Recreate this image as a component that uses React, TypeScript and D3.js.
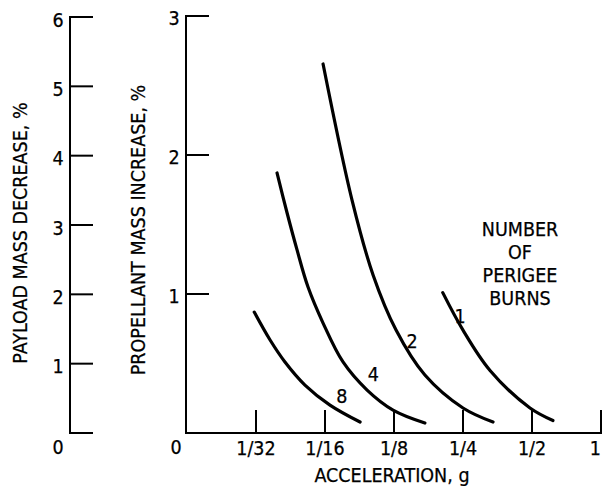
import React from "react";
import * as d3 from "d3";

// ---- data ----
const burnCounts = ["8", "4", "2", "1"];
const accel8 = [0.0307, 0.036, 0.0418, 0.0511, 0.0657, 0.0889];
const prop8 = [0.87, 0.669, 0.511, 0.345, 0.201, 0.079];
const accel4 = [0.0386, 0.0426, 0.0472, 0.0527, 0.0613, 0.0749, 0.0954, 0.1238, 0.1705];
const prop4 = [1.871, 1.59, 1.317, 1.05, 0.791, 0.511, 0.309, 0.165, 0.072];
const accel2 = [0.0613, 0.082, 0.1013, 0.1276, 0.1705, 0.25, 0.338];
const prop2 = [2.655, 1.676, 1.137, 0.741, 0.417, 0.18, 0.079];
const accel1 = [0.204, 0.25, 0.328, 0.49, 0.617];
const prop1 = [1.01, 0.74, 0.45, 0.18, 0.09];
const labelAccel = [0.0741, 0.1015, 0.15, 0.243];
const labelProp = [0.26, 0.42, 0.655, 0.835];

const xTickValues = [1 / 32, 1 / 16, 1 / 8, 1 / 4, 1 / 2, 1];
const xTickLabels = ["1/32", "1/16", "1/8", "1/4", "1/2", "1"];
const payloadTicks = [1, 2, 3, 4, 5, 6];
const propTicks = [1, 2, 3];
const legendLines = ["NUMBER", "OF", "PERIGEE", "BURNS"];

const W = 602;
const H = 486;
const FONT = "'Liberation Sans Narrow', 'DejaVu Sans Condensed', 'Arial Narrow', sans-serif";

export default function App() {
  const x = d3.scaleLog().base(2).domain([1 / 32, 1]).range([256, 601]);
  const yProp = d3.scaleLinear().domain([0, 3]).range([433, 16]);
  const yPay = d3.scaleLinear().domain([0, 6]).range([433, 17]);

  const series = [
    { a: accel8, p: prop8 },
    { a: accel4, p: prop4 },
    { a: accel2, p: prop2 },
    { a: accel1, p: prop1 },
  ];
  const line = d3
    .line<[number, number]>()
    .x((d) => x(d[0]))
    .y((d) => yProp(d[1]))
    .curve(d3.curveCatmullRom.alpha(0.5));

  const leftX = 70;
  const mainX = 186;
  const axisY = 433;
  const tickLen = 23;
  const fs = 19.5;
  const tp = { fontSize: fs, textAnchor: "middle" as const, dominantBaseline: "central" as const, stroke: "#000", strokeWidth: 0.25 };

  return (
    <svg
      width={W}
      height={H}
      style={{ position: "absolute", left: 0, top: 0, background: "#fff" }}
      fontFamily={FONT}
    >
      <rect width={W} height={H} fill="#fff" />
      {/* left payload axis */}
      <line x1={leftX} x2={leftX} y1={yPay(6)} y2={yPay(0)} stroke="#000" strokeWidth={2} />
      {[0, ...payloadTicks].map((v) => (
        <line key={"pt" + v} x1={leftX - 1} x2={leftX + tickLen} y1={yPay(v)} y2={yPay(v)} stroke="#000" strokeWidth={2} />
      ))}
      {payloadTicks.map((v) => (
        <text key={"pl" + v} x={58} y={yPay(v) + 3} {...tp}>
          {v}
        </text>
      ))}
      <text x={58} y={447} {...tp}>0</text>
      <text transform={`translate(20,233) rotate(-90)`} {...tp}>
        PAYLOAD MASS DECREASE, %
      </text>

      {/* propellant axis */}
      <line x1={mainX} x2={mainX} y1={yProp(3)} y2={axisY} stroke="#000" strokeWidth={2} />
      {propTicks.map((v) => (
        <line key={"yt" + v} x1={mainX - 1} x2={mainX + tickLen} y1={yProp(v)} y2={yProp(v)} stroke="#000" strokeWidth={2} />
      ))}
      {propTicks.map((v) => (
        <text key={"yl" + v} x={174} y={yProp(v) + 2} {...tp}>
          {v}
        </text>
      ))}
      <text x={176} y={447} {...tp}>0</text>
      <text transform={`translate(138,230) rotate(-90)`} {...tp}>
        PROPELLANT MASS INCREASE, %
      </text>

      {/* x axis */}
      <line x1={mainX - 1} x2={W} y1={axisY} y2={axisY} stroke="#000" strokeWidth={2} />
      {xTickValues.map((v, i) => (
        <line key={"xt" + i} x1={x(v)} x2={x(v)} y1={axisY} y2={axisY - tickLen} stroke="#000" strokeWidth={2} />
      ))}
      {xTickValues.map((v, i) => {
        const last = i === xTickValues.length - 1;
        return (
          <text
            key={"xl" + i}
            x={last ? W - 1 : x(v)}
            y={448}
            {...tp}
            textAnchor={last ? "end" : "middle"}
          >
            {xTickLabels[i]}
          </text>
        );
      })}
      <text x={392} y={475} {...tp}>
        ACCELERATION, g
      </text>

      {/* curves */}
      {series.map((s, i) => (
        <path
          key={"c" + i}
          d={line(s.a.map((a, j) => [a, s.p[j]] as [number, number])) || ""}
          fill="none"
          stroke="#000"
          strokeWidth={3.2}
          strokeLinecap="round"
        />
      ))}
      {burnCounts.map((b, i) => (
        <text key={"bl" + i} x={x(labelAccel[i])} y={yProp(labelProp[i])} {...tp}>
          {b}
        </text>
      ))}

      {/* legend */}
      {legendLines.map((t, i) => (
        <text key={"lg" + i} x={520} y={229 + i * 23} {...tp}>
          {t}
        </text>
      ))}
    </svg>
  );
}
